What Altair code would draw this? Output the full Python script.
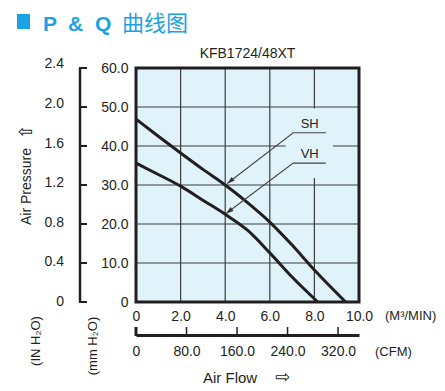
import altair as alt
import pandas as pd

# ---------------- data ----------------
flow_sh = [0, 1, 2, 3, 4, 5, 6, 7, 8, 9.4]
pres_sh = [46.9, 42.5, 38.2, 34.0, 30.0, 25.5, 20.5, 14.6, 8.2, 0]
flow_vh = [0, 1, 2, 3, 4, 5, 6, 7, 8.15]
pres_vh = [35.6, 32.7, 29.7, 26.1, 22.5, 18.4, 12.6, 6.4, 0]

flow_ticks = [0, 2, 4, 6, 8, 10]
mm_ticks = [0, 10, 20, 30, 40, 50, 60]
in_ticks = [0, 0.4, 0.8, 1.2, 1.6, 2.0, 2.4]
in_tick_labels = ["0", "0.4", "0.8", "1.2", "1.6", "2.0", "2.4"]
cfm_ticks = [0, 80, 160, 240, 320]

series_names = ["SH", "VH"]
label_flow = [7.79, 7.79]
label_pres = [44.6, 36.8]
leader_end_flow = [8.51, 8.51]
leader_elbow_flow = [7.05, 7.05]
leader_pres = [43.4, 35.6]
tip_flow = [4.09, 4.04]
tip_pres = [30.4, 22.7]

mask_flow = [6.71, 8.83]
mask_pres = [31.8, 49.6]

MM_PER_IN = 25.4
CFM_PER_M3MIN = 35.3147

# ---------------- style ----------------
W, H = 223, 234
INK = "#231f20"
GRID = "#3d3d3d"
BG = "#e1f3fa"
BLUE = "#1aa3e4"
FONT = "Liberation Sans"
ARROW_FONT = "DejaVu Sans"

num_expr = "datum.value == 0 ? '0' : format(datum.value, '.1f')"

xscale = alt.Scale(domain=[flow_ticks[0], flow_ticks[-1]], nice=False, zero=False)
yscale = alt.Scale(domain=[mm_ticks[0], mm_ticks[-1]], nice=False, zero=False)
xaxis = alt.Axis(values=flow_ticks, title=None, grid=False,
                 domain=False, ticks=False, tickSize=0, labelPadding=7, labelFontSize=14,
                 labelColor=INK, labelFlush=False, labelOverlap=False, labelExpr=num_expr)
yaxis = alt.Axis(values=mm_ticks, title=None, grid=False,
                 domain=False, ticks=False, tickSize=0, labelPadding=8, labelFontSize=14,
                 labelColor=INK, labelFlush=False, labelOverlap=False, labelExpr=num_expr)


def X(f="x"):
    return alt.X(f"{f}:Q", scale=xscale, axis=xaxis)


def Y(f="y"):
    return alt.Y(f"{f}:Q", scale=yscale, axis=yaxis)


# ---------------- tables ----------------
curves_df = pd.DataFrame({
    "x": flow_sh + flow_vh,
    "y": pres_sh + pres_vh,
    "s": ["SH"] * len(flow_sh) + ["VH"] * len(flow_vh),
    "o": list(range(len(flow_sh))) + list(range(len(flow_vh))),
})

leader_rows = []
for i, n in enumerate(series_names):
    leader_rows.append({"s": n, "o": 0, "x": leader_end_flow[i], "y": leader_pres[i]})
    leader_rows.append({"s": n, "o": 1, "x": leader_elbow_flow[i], "y": leader_pres[i]})
    leader_rows.append({"s": n, "o": 2, "x": tip_flow[i], "y": tip_pres[i]})
leader_df = pd.DataFrame(leader_rows)
tips_df = pd.DataFrame({"x": tip_flow, "y": tip_pres})
labels_df = pd.DataFrame({"x": label_flow, "y": label_pres, "t": series_names})
mask_df = pd.DataFrame({"x": [mask_flow[0]], "x2": [mask_flow[1]],
                        "y": [mask_pres[0]], "y2": [mask_pres[1]]})
bg_df = pd.DataFrame({"x": [flow_ticks[0]], "x2": [flow_ticks[-1]],
                      "y": [mm_ticks[0]], "y2": [mm_ticks[-1]]})
vgrid_df = pd.DataFrame({"x": flow_ticks})
hgrid_df = pd.DataFrame({"y": mm_ticks})
in_df = pd.DataFrame({"y": [v * MM_PER_IN for v in in_ticks], "t": in_tick_labels})
bracket_df = pd.DataFrame({"y": [mm_ticks[0]], "y2": [mm_ticks[-1]]})
bticks_df = pd.DataFrame({"y": mm_ticks})
cfm_df = pd.DataFrame({"cfm": cfm_ticks})

# ---------------- layers ----------------
background = alt.Chart(bg_df).mark_rect(color=BG).encode(x=X(), x2="x2", y=Y(), y2="y2")

vgrid = alt.Chart(vgrid_df).mark_rule(color=GRID, strokeWidth=1.2).encode(
    x=X(), y=alt.value(0), y2=alt.value(H))
hgrid = alt.Chart(hgrid_df).mark_rule(color=GRID, strokeWidth=1.2).encode(
    y=Y(), x=alt.value(0), x2=alt.value(W))

mask = alt.Chart(mask_df).mark_rect(color=BG).encode(x=X(), x2="x2", y=Y(), y2="y2")

curves = alt.Chart(curves_df).mark_line(interpolate="monotone", strokeWidth=3, color=INK).encode(
    x=X(), y=Y(), detail="s:N", order="o:Q")

leaders = alt.Chart(leader_df).mark_line(strokeWidth=1.1, color="#444444").encode(
    x=X(), y=Y(), detail="s:N", order="o:Q")

arrows = alt.Chart(tips_df).mark_point(shape="M0,0L-0.32,1L0.32,1Z", filled=True, size=220,
                                       angle=233, color="#333333", opacity=1).encode(x=X(), y=Y())

series_labels = alt.Chart(labels_df).mark_text(fontSize=13, color=INK, baseline="alphabetic",
                                               align="center").encode(x=X(), y=Y(), text="t:N")

in_labels = alt.Chart(in_df).mark_text(fontSize=14, color=INK, align="right",
                                       baseline="middle").encode(
    x=alt.value(-72), y=Y(), text="t:N")

bracket = alt.Chart(bracket_df).mark_rule(strokeWidth=2.5, color=INK).encode(
    x=alt.value(-56), y=Y(), y2="y2")

bracket_ticks = alt.Chart(bticks_df).mark_rule(strokeWidth=2, color=INK).encode(
    x=alt.value(-57), x2=alt.value(-49), y=Y())

frame = alt.Chart(bg_df).mark_rect(fill=None, filled=False, stroke=INK, strokeWidth=3).encode(
    x=X(), x2="x2", y=Y(), y2="y2")


def text_layer(t, x, y, size=14, color=INK, weight="normal", angle=0, align="left",
               baseline="alphabetic", font=FONT):
    kw = dict(fontSize=size, color=color, fontWeight=weight, align=align,
              baseline=baseline, font=font)
    if angle:
        kw["angle"] = angle
    return alt.Chart(pd.DataFrame({"t": [t]})).mark_text(**kw).encode(
        x=alt.value(x), y=alt.value(y), text="t:N")


title_square = alt.Chart(pd.DataFrame({"t": ["■"]})).mark_rect(color=BLUE).encode(
    x=alt.value(-119), x2=alt.value(-106), y=alt.value(-54), y2=alt.value(-39))

texts = [
    text_layer("P", -93, -37, size=21, color=BLUE, weight="bold"),
    text_layer("&", -68, -37, size=21, color=BLUE, weight="bold"),
    text_layer("Q", -41, -37, size=21, color=BLUE, weight="bold"),
    text_layer("曲线图", -14, -37, size=22, color=BLUE, font="Noto Sans CJK SC"),
    text_layer("KFB1724/48XT", W / 2, -10.5, size=14, align="center"),
    text_layer("Air Pressure", -109, 118.5, size=14, angle=270, align="center",
               baseline="middle"),
    text_layer("⇧", -109, 63.5, size=18, angle=270, align="center", baseline="middle",
               font=ARROW_FONT),
    text_layer("(IN H₂O)", -100, 273, size=13, angle=270, align="center", baseline="middle"),
    text_layer("(mm H₂O)", -43.5, 278, size=13, angle=270, align="center", baseline="middle"),
    text_layer("(M³/MIN)", 249, 248, size=13, baseline="middle"),
    text_layer("(CFM)", 239, 284, size=13, baseline="middle"),
    text_layer("Air Flow", 67, 315, size=15),
    text_layer("⇨", 139, 315, size=18, font=ARROW_FONT),
]

main = alt.layer(background, vgrid, hgrid, mask, curves, leaders, arrows, series_labels,
                 frame, in_labels, bracket, bracket_ticks, title_square, *texts)

cfm_axis = alt.Axis(orient="bottom", offset=33, values=cfm_ticks, title=None, grid=False,
                    domain=True, domainColor=INK, domainWidth=3, ticks=False, tickSize=0,
                    labelPadding=9, labelFontSize=14, labelColor=INK, labelFlush=False,
                    labelOverlap=False, labelExpr=num_expr)

cfm = alt.Chart(cfm_df).mark_rule(color=INK).encode(
    x=alt.X("cfm:Q", scale=alt.Scale(domain=[0, flow_ticks[-1] * CFM_PER_M3MIN], nice=False,
                                     zero=False),
            axis=cfm_axis),
    y=alt.value(259), y2=alt.value(268),
    strokeWidth=alt.condition("datum.cfm == 0", alt.value(3), alt.value(1.5)),
)

chart = (
    alt.layer(main, cfm)
    .resolve_scale(x="independent")
    .properties(width=W, height=H,
                padding={"left": 128, "top": 60, "right": 78, "bottom": 83},
                autosize=alt.AutoSizeParams(type="none"))
    .configure_view(stroke=None)
    .configure(font=FONT, background="white")
)

chart.save("out.html", embed_options={"renderer": "svg", "actions": False})
